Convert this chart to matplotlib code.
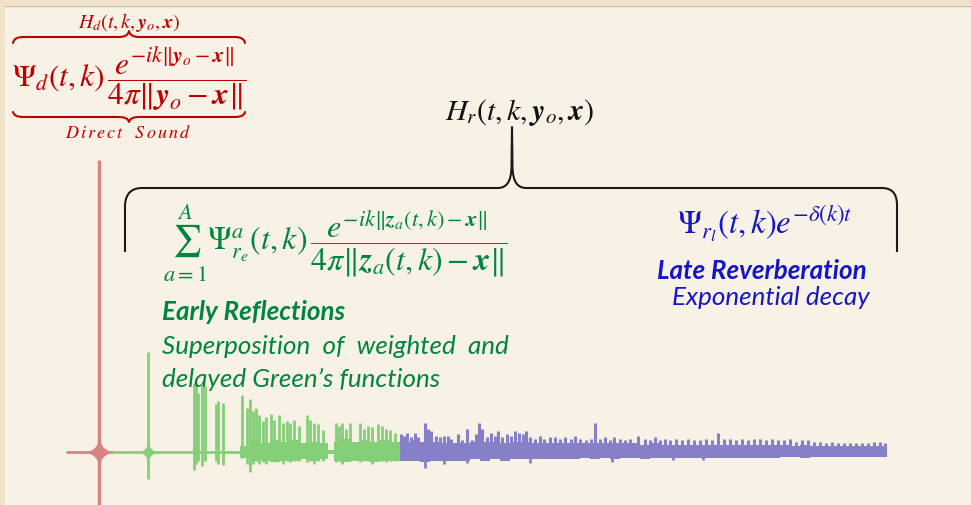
import numpy as np
import matplotlib.pyplot as plt
from matplotlib.path import Path
from matplotlib.patches import PathPatch, Rectangle

plt.rcParams['mathtext.fontset'] = 'stix'

#%% impulse response (time in ms, amplitude in % of direct sound)
direct_t = 3.9
direct_hi = 100
direct_lo = -20
pre_t = [0.6, 3.9]

# early reflections: spike times, peaks, troughs
er_t = [8.8, 13.4, 13.6, 13.8, 14.2, 14.5, 15.6, 15.8, 16.3, 18.2, 18.7, 19.0, 19.3,
        19.6, 19.9, 20.3, 20.6, 21.1, 21.4, 21.9, 22.3, 22.7, 23.0, 23.4, 23.9, 24.7,
        25.0, 25.4, 25.8, 26.3, 27.6, 27.9, 28.2, 28.6, 29.0, 30.0, 30.4, 30.8, 31.2,
        31.8, 32.2, 32.6, 33.0, 33.5]
er_hi = [34.2, 23.5, 23, 20, 23, 22.5, 16.5, 17.5, 16.8, 19.5, 15, 18.2, 14,
         15, 12.5, 10.5, 12, 13, 11, 12.5, 10, 10.5, 10, 11, 9, 12.5,
         11, 10, 9.5, 7.5, 10, 9, 10, 8, 10, 10, 8, 9, 8.5,
         9.5, 9, 8, 7.5, 6.5]
er_lo = [-9.2, -6.2, -4, -3, -5, -3, -3, -4, -4.5, -2, -4, -6.8, -4,
         -3, -4, -3.5, -4, -3, -3.5, -3, -4, -3, -3.5, -3, -3, -3.5,
         -3, -4, -3, -3, -3.5, -3, -4, -3, -3, -3.5, -3, -3, -4,
         -3, -3, -3.5, -3, -3]
er_body_t = [18.0, 19.0, 20.0, 21.0, 22.0, 23.0, 24.0, 25.0, 26.0, 26.8, 27.4, 28.0,
             29.0, 30.0, 31.0, 32.0, 33.0, 34.0]
er_body_hi = [2, 4, 3, 4, 3.5, 4, 3, 3.5, 3, 0.8, 3.5, 4.5, 3.5, 4, 3.5, 4, 3.5, 3]
er_body_lo = [-2, -3, -3, -3.5, -3, -3, -2.5, -3, -2.5, -0.8, -3, -3.5, -3, -3, -3.5,
              -3, -3, -3]

# late reverberation: dense body plus spikes
lr_body_t = [34, 35, 36, 37, 38, 39, 40, 41, 42, 43, 44, 45, 46, 47, 48, 49, 50, 51,
             52, 53, 54, 55, 56, 57, 58, 59, 60, 61, 62, 63, 64, 65, 66, 67, 68, 69,
             70, 71, 72, 73, 74, 75, 76, 77, 78, 79, 80, 81, 82, 82.7]
lr_body_hi = [3.5, 4, 3.5, 3.5, 3, 3, 3, 3.5, 3.5, 3.5, 3, 3.5, 3.5, 3, 3, 3, 3,
              3, 3, 3, 3, 3, 3, 3, 2.5, 3, 2.5, 2.5, 2.5, 2.5, 2.5, 2.5, 2.5, 2.5, 2.5, 2.5,
              2.5, 2.5, 2.5, 2, 2.5, 2, 2, 2, 2, 2, 2, 2, 2, 2]
lr_body_lo = [-3, -3, -3.5, -3, -3, -3, -3, -2.5, -3, -2.5, -3, -2.5, -2.5, -2.5, -2.5,
              -2.5, -2.5, -2.5, -2, -2.5, -2, -2.5, -2, -2, -2.5, -2, -2, -2, -2, -2,
              -2, -2, -2, -2, -2, -2, -2, -2, -1.8, -1.8, -2, -1.8, -1.8, -1.8, -1.8,
              -1.6, -1.8, -1.6, -1.8, -1.8]
lr_t = [34.1, 34.4, 34.7, 35.1, 35.5, 35.8, 36.5, 36.8, 37.1, 37.6, 38.0, 38.4, 38.8,
        39.1, 39.8, 40.2, 40.7, 41.2, 41.6, 41.9, 42.2, 42.7, 43.1, 43.5, 43.8, 44.2,
        44.7, 45.1, 45.5, 45.9, 46.3, 46.6, 47.0, 47.5, 48.0, 48.4, 49.0, 49.5, 50.0,
        50.5, 51.1, 51.5, 52.0, 52.6, 53.1, 53.5, 54.0, 54.5, 55.0, 55.4, 56.0, 56.5,
        57.0, 57.8, 58.5, 59.0, 59.5, 60.0, 60.5, 61.0, 61.6, 62.2, 62.8, 63.4, 64.0,
        64.6, 65.2, 65.8, 66.4, 67.0, 67.6, 68.2, 68.8, 69.4, 70.0, 70.6, 71.2, 71.8,
        72.4, 73.0, 73.6, 74.2, 74.8, 75.4, 76.0, 76.6, 77.2, 77.8, 78.4, 79.0, 79.6,
        80.2, 80.8, 81.4, 82.0, 82.5]
lr_hi = [6, 5.5, 6.5, 5, 6.5, 5, 10, 8, 7, 5.5, 5, 5.5, 5.5,
         4.5, 6, 4, 8, 4, 6, 10, 8, 5, 6.5, 5.5, 7, 5,
         6, 5.5, 7, 6.5, 6, 7, 5, 4.5, 5.5, 4.5, 5, 5, 4.5,
         5, 4.5, 5.5, 4.5, 4, 4.5, 10, 4.5, 5, 4, 5, 4.5, 4,
         4.5, 5.5, 4.5, 4, 5, 4, 4.5, 4, 4.5, 4, 4.5, 4, 4,
         4.5, 4, 6.5, 4.5, 4.5, 4, 4.5, 4, 4.5, 4.5, 4, 4.5, 4,
         4, 4.5, 3.5, 4, 4, 3.5, 3.5, 3, 3.5, 3, 3, 3, 3,
         3, 3, 3.5, 3.5, 3]
lr_dip_t = [36.5, 38.4, 40.7, 47.0, 55.2, 61.3, 64.3]
lr_dip_lo = [-5.5, -4, -3.8, -3.8, -3.6, -2.8, -2.9]

red_w, green_w, blue_w = '#d98282', '#86cf79', '#8580c8'
red_t, green_t, blue_t = '#c00000', '#00853e', '#1515c8'
bg = '#f8f1e6'

fig = plt.figure(figsize=(9.71, 5.05), dpi=100, facecolor=bg)

#%% waveform
ax = fig.add_axes([60/971, 0, 840/971, 355/505])
ax.set_xlim(0, 84)
ax.set_ylim(-18.2, 103.4)
ax.axis('off')

# concave 4-point star used as the "ringing" flare at the base of a spike
c = 0.07
star = Path([(1, 0), (c, c), (0, 1), (-c, c), (-1, 0), (-c, -c), (0, -1), (c, -c), (1, 0), (1, 0)],
            [Path.MOVETO, Path.CURVE3, Path.CURVE3, Path.CURVE3, Path.CURVE3,
             Path.CURVE3, Path.CURVE3, Path.CURVE3, Path.CURVE3, Path.CLOSEPOLY])

ax.plot(pre_t, [0, 0], color=red_w, lw=2, solid_capstyle='butt')
ax.plot([direct_t, 34.0], [0, 0], color=green_w, lw=2.0, solid_capstyle='butt')
ax.fill_between(er_body_t, er_body_lo, er_body_hi, step='post', color=green_w, lw=0)
ax.vlines(er_t, er_lo, er_hi, color=green_w, lw=2.0)
ax.plot(er_t[0], 0, marker=star, ms=16, color=green_w, mew=0)
ax.plot(er_t[2], 0, marker=star, ms=10, color=green_w, mew=0)
ax.plot(er_t[9], 0, marker=star, ms=9, color=green_w, mew=0)

ax.fill_between(lr_body_t, lr_body_lo, lr_body_hi, step='post', color=blue_w, lw=0)
ax.vlines(lr_t, 0, lr_hi, color=blue_w, lw=2.2)
ax.vlines(lr_dip_t, lr_dip_lo, 0, color=blue_w, lw=2.0)

ax.vlines(direct_t, direct_lo, direct_hi, color=red_w, lw=2.5)
ax.plot(direct_t, 0, marker=star, ms=23, color=red_w, mew=0)

#%% annotations (pixel coordinates)
ov = fig.add_axes([0, 0, 1, 1])
ov.set_xlim(0, 971)
ov.set_ylim(505, 0)
ov.axis('off')
ov.patch.set_alpha(0)

ov.add_patch(Rectangle((0, 0), 971, 5, color='#f1e3c9', lw=0))
ov.add_patch(Rectangle((0, 0), 5, 505, color='#f1e3c9', lw=0))
ov.plot([5, 971], [5.5, 5.5], color='#c7bba7', lw=1)


def hbrace(x0, x1, y_line, y_end, y_tip, color, lw, r=10):
    xm = (x0 + x1) / 2
    verts = [(x0, y_end), (x0 + 1, y_line), (x0 + r, y_line), (xm - r, y_line),
             (xm - 1, y_line), (xm, y_tip), (xm + 1, y_line), (xm + r, y_line),
             (x1 - r, y_line), (x1 - 1, y_line), (x1, y_end)]
    codes = [Path.MOVETO, Path.CURVE3, Path.CURVE3, Path.LINETO, Path.CURVE3, Path.CURVE3,
             Path.CURVE3, Path.CURVE3, Path.LINETO, Path.CURVE3, Path.CURVE3]
    ov.add_patch(PathPatch(Path(verts, codes), fc='none', ec=color, lw=lw,
                           joinstyle='round', capstyle='round'))


hbrace(13, 245, 37, 43, 31, red_t, 1.5)
hbrace(13, 245, 117, 112, 122, red_t, 1.5)

# big black brace over the reverberant part
verts = [(125, 252), (125, 205), (126, 188), (142, 188), (498, 188), (511, 188), (511.5, 168),
         (512, 127), (512.5, 168), (513, 188), (526, 188), (882, 188), (897, 188), (897, 205),
         (897, 252)]
codes = [Path.MOVETO, Path.LINETO, Path.CURVE3, Path.CURVE3, Path.LINETO, Path.CURVE3,
         Path.CURVE3, Path.LINETO, Path.LINETO, Path.CURVE3, Path.CURVE3, Path.LINETO,
         Path.CURVE3, Path.CURVE3, Path.LINETO]
ov.add_patch(PathPatch(Path(verts, codes), fc='none', ec='#1a1a1a', lw=1.5, joinstyle='round'))

ov.text(129, 23, r'$H_d(t,k,\mathbfit{y}_o,\mathbfit{x})$', color=red_t, fontsize=14.5,
        ha='center', va='center')
ov.text(12, 80, r'$\Psi_d(t,k)\,\dfrac{e^{-ik\Vert\mathbfit{y}_o-\mathbfit{x}\Vert}}'
        r'{4\pi\Vert\mathbfit{y}_o-\mathbfit{x}\Vert}$', color=red_t, fontsize=22.5,
        ha='left', va='center')
ov.text(128, 133, r'$D\,i\,r\,e\,c\,t\ \ \ S\,o\,u\,n\,d$', color=red_t, fontsize=13,
        ha='center', va='center')

ov.text(520, 112, r'$H_r(t,k,\mathbfit{y}_o,\mathbfit{x})$', color='#111111', fontsize=21.5,
        ha='center', va='center')

ov.text(163, 243, r'$\sum_{a=1}^{A}\Psi_{r_e}^{a}(t,k)\,\dfrac{e^{-ik\Vert\mathbfit{z}_a(t,k)-\mathbfit{x}\Vert}}'
        r'{4\pi\Vert\mathbfit{z}_a(t,k)-\mathbfit{x}\Vert}$', color=green_t, fontsize=23,
        ha='left', va='center')
ov.text(677, 224, r'$\Psi_{r_l}(t,k)e^{-\delta(k)t}$', color=blue_t, fontsize=23.5,
        ha='left', va='center')

ov.text(657, 279, 'Late Reverberation', color=blue_t, fontsize=18.7, family='Lato',
        style='italic', weight='bold', va='baseline')
ov.text(672, 305, 'Exponential decay', color=blue_t, fontsize=18.7, family='Lato',
        style='italic', va='baseline')
ov.text(162, 320, 'Early Reflections', color=green_t, fontsize=18.7, family='Lato',
        style='italic', weight='bold', va='baseline')
ov.text(162, 354, 'Superposition  of  weighted  and', color=green_t, fontsize=18.7,
        family='Lato', style='italic', va='baseline')
ov.text(162, 387, 'delayed Green\u2019s functions', color=green_t, fontsize=18.7,
        family='Lato', style='italic', va='baseline')

plt.savefig('out.png', dpi=100, facecolor=bg)
